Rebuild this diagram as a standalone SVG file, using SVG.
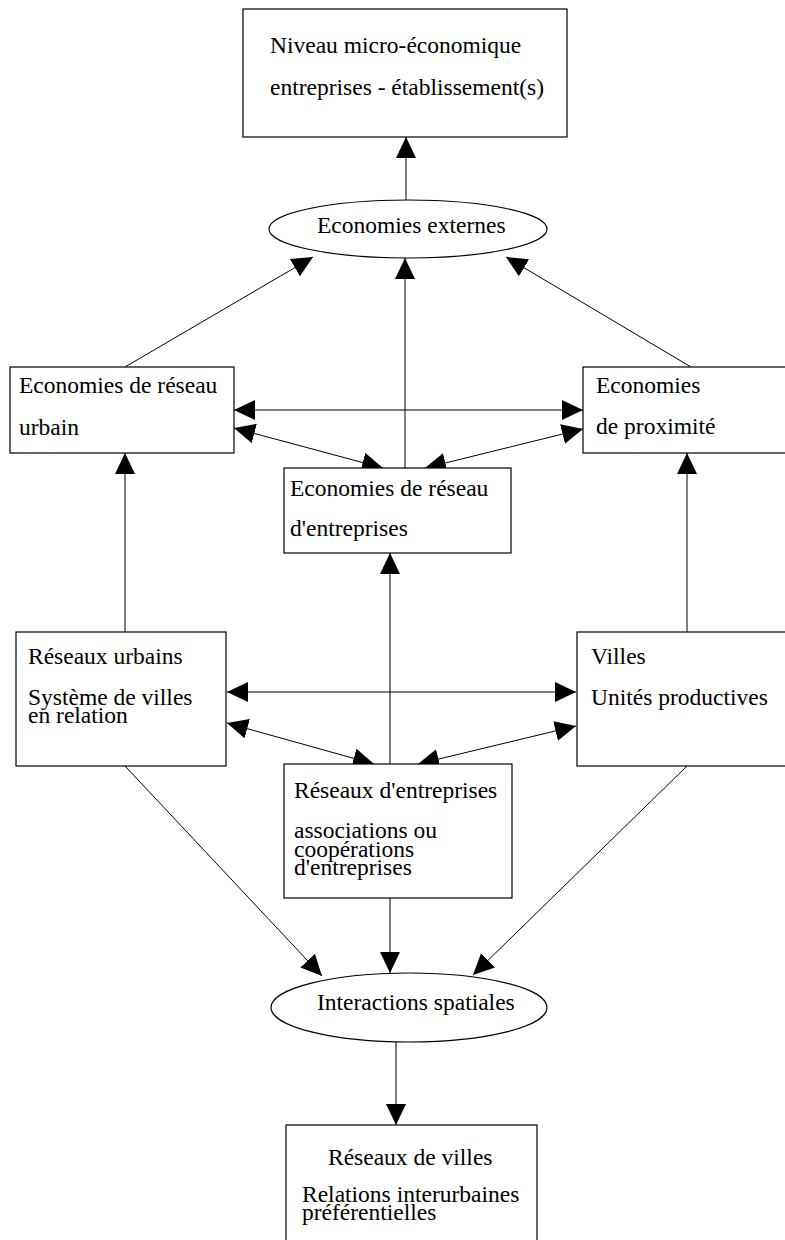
<svg xmlns="http://www.w3.org/2000/svg" width="785" height="1240" viewBox="0 0 785 1240">
<style>
.box{fill:#fff;stroke:#000;stroke-width:1.2}
.t{font-family:"Liberation Serif","Times New Roman",serif;font-size:23.5px;fill:#000}
.c{fill:none;stroke:#000;stroke-width:1}
.a{marker-end:url(#ah)}
.d{marker-start:url(#ah);marker-end:url(#ah)}
</style>
<defs>
<marker id="ah" markerUnits="userSpaceOnUse" markerWidth="22" markerHeight="22" refX="21" refY="10" orient="auto-start-reverse">
<path d="M0,0 L21,10 L0,20 z" fill="#000"/>
</marker>
</defs>
<rect width="785" height="1240" fill="#fff"/>
<g id="connectors">
<line class="c a" x1="406" y1="200" x2="406" y2="137"/>
<line class="c a" x1="125" y1="367" x2="313" y2="257"/>
<line class="c a" x1="691" y1="367" x2="506" y2="257"/>
<line class="c a" x1="405" y1="468" x2="405" y2="258"/>
<line class="c d" x1="234" y1="410" x2="583" y2="410"/>
<line class="c d" x1="234" y1="428" x2="383" y2="468"/>
<line class="c d" x1="583" y1="429" x2="425" y2="468"/>
<line class="c a" x1="125" y1="632" x2="125" y2="453"/>
<line class="c a" x1="687" y1="632" x2="687" y2="453"/>
<line class="c a" x1="390" y1="764" x2="390" y2="553"/>
<line class="c d" x1="227" y1="692" x2="576" y2="692"/>
<line class="c d" x1="227" y1="723" x2="374" y2="764"/>
<line class="c d" x1="576" y1="726" x2="418" y2="764"/>
<line class="c a" x1="125" y1="766" x2="322" y2="976"/>
<line class="c a" x1="687" y1="766" x2="473" y2="975"/>
<line class="c a" x1="390" y1="898" x2="390" y2="973"/>
<line class="c a" x1="396" y1="1042" x2="396" y2="1125"/>
</g>
<g id="n-niveau">
<rect class="box" x="243" y="9" width="324" height="128"/>
<text class="t" x="270" y="53">Niveau micro-économique</text>
<text class="t" x="270" y="95">entreprises - établissement(s)</text>
</g>
<g id="n-externes">
<ellipse class="box" cx="408" cy="229" rx="139" ry="29"/>
<text class="t" x="317" y="233">Economies externes</text>
</g>
<g id="n-eco-urbain">
<rect class="box" x="10" y="367" width="224" height="86"/>
<text class="t" x="19" y="393">Economies de réseau</text>
<text class="t" x="19" y="435">urbain</text>
</g>
<g id="n-eco-proximite">
<rect class="box" x="583" y="367" width="220" height="86"/>
<text class="t" x="596" y="393">Economies</text>
<text class="t" x="596" y="434">de proximité</text>
</g>
<g id="n-eco-entreprises">
<rect class="box" x="284" y="468" width="227" height="85"/>
<text class="t" x="290" y="496">Economies de réseau</text>
<text class="t" x="290" y="536">d'entreprises</text>
</g>
<g id="n-reseaux-urbains">
<rect class="box" x="16" y="632" width="210" height="134"/>
<text class="t" x="28" y="664">Réseaux urbains</text>
<text class="t" x="28" y="705">Système de villes</text>
<text class="t" x="28" y="723">en relation</text>
</g>
<g id="n-villes">
<rect class="box" x="577" y="632" width="226" height="134"/>
<text class="t" x="591" y="664">Villes</text>
<text class="t" x="591" y="705">Unités productives</text>
</g>
<g id="n-reseaux-entreprises">
<rect class="box" x="284" y="764" width="228" height="134"/>
<text class="t" x="294" y="798">Réseaux d'entreprises</text>
<text class="t" x="294" y="838">associations ou</text>
<text class="t" x="294" y="857">coopérations</text>
<text class="t" x="294" y="875">d'entreprises</text>
</g>
<g id="n-interactions">
<ellipse class="box" cx="409" cy="1007.5" rx="138" ry="34.5"/>
<text class="t" x="317" y="1010">Interactions spatiales</text>
</g>
<g id="n-reseaux-villes">
<rect class="box" x="286" y="1125" width="251" height="130"/>
<text class="t" x="328" y="1165">Réseaux de villes</text>
<text class="t" x="302" y="1202">Relations interurbaines</text>
<text class="t" x="302" y="1220">préférentielles</text>
</g>
</svg>
